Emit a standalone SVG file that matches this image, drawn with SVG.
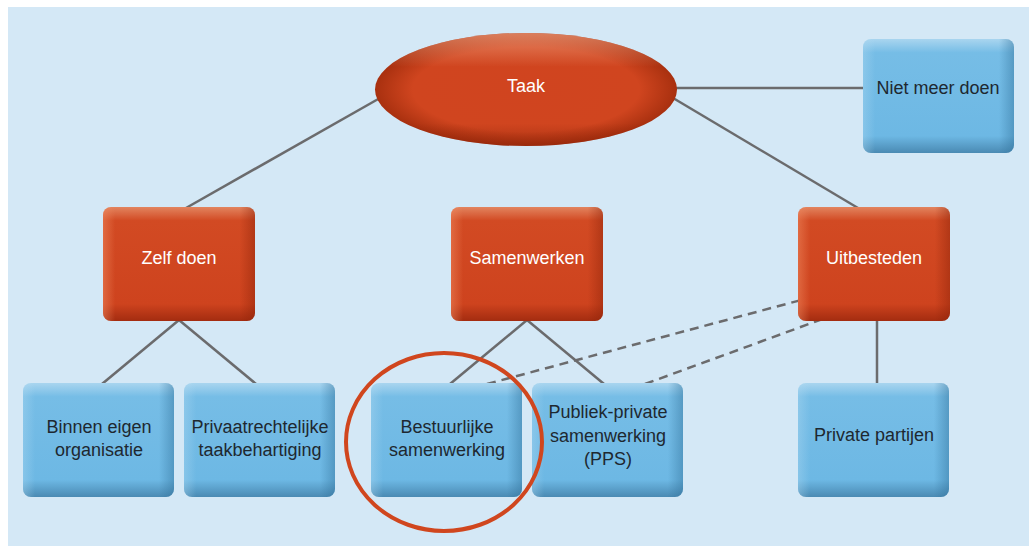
<svg xmlns="http://www.w3.org/2000/svg" width="1029" height="546" viewBox="0 0 1029 546">
<defs>
<style>
.conn{stroke:#6b6b6d;stroke-width:2.5;fill:none}
.dash{stroke:#6b6b6d;stroke-width:2.5;fill:none;stroke-dasharray:9 6}
.tw{font-family:"Liberation Sans Narrow","Liberation Sans",Arial,sans-serif;font-size:18px;fill:#ffffff;text-anchor:middle}
.tb{font-family:"Liberation Sans Narrow","Liberation Sans",Arial,sans-serif;font-size:18px;fill:#1e2830;text-anchor:middle}
</style>
<linearGradient id="rv" x1="0" y1="0" x2="0" y2="1">
<stop offset="0" stop-color="#e2845f"/>
<stop offset="0.12" stop-color="#d24a23"/>
<stop offset="0.85" stop-color="#ce431e"/>
<stop offset="1" stop-color="#a32c10"/>
</linearGradient>
<linearGradient id="rh" x1="0" y1="0" x2="1" y2="0">
<stop offset="0" stop-color="#f08a60" stop-opacity="0.5"/>
<stop offset="0.08" stop-color="#f08a60" stop-opacity="0"/>
<stop offset="0.9" stop-color="#8a2208" stop-opacity="0"/>
<stop offset="1" stop-color="#8a2208" stop-opacity="0.45"/>
</linearGradient>
<linearGradient id="bv" x1="0" y1="0" x2="0" y2="1">
<stop offset="0" stop-color="#a9d5ef"/>
<stop offset="0.12" stop-color="#76bde6"/>
<stop offset="0.85" stop-color="#6db8e4"/>
<stop offset="1" stop-color="#4a8ab3"/>
</linearGradient>
<linearGradient id="bh" x1="0" y1="0" x2="1" y2="0">
<stop offset="0" stop-color="#b5dcf2" stop-opacity="0.35"/>
<stop offset="0.08" stop-color="#b5dcf2" stop-opacity="0"/>
<stop offset="0.9" stop-color="#2f6f98" stop-opacity="0"/>
<stop offset="1" stop-color="#2f6f98" stop-opacity="0.45"/>
</linearGradient>
<radialGradient id="er" cx="0.5" cy="0.5" r="0.5">
<stop offset="0" stop-color="#d0441f"/>
<stop offset="0.75" stop-color="#d0451f"/>
<stop offset="1" stop-color="#a8300f"/>
</radialGradient>
<linearGradient id="ev" x1="0" y1="0" x2="0" y2="1">
<stop offset="0" stop-color="#f0a07e" stop-opacity="0.7"/>
<stop offset="0.3" stop-color="#f0a07e" stop-opacity="0"/>
<stop offset="0.8" stop-color="#8a2208" stop-opacity="0"/>
<stop offset="1" stop-color="#8a2208" stop-opacity="0.5"/>
</linearGradient>
<g id="redbox">
<rect width="152" height="114" rx="8" fill="url(#rv)"/>
<rect width="152" height="114" rx="8" fill="url(#rh)"/>
</g>
<g id="bluebox">
<rect width="151" height="114" rx="8" fill="url(#bv)"/>
<rect width="151" height="114" rx="8" fill="url(#bh)"/>
</g>
</defs>
<rect x="0" y="0" width="1029" height="546" fill="#ffffff"/>
<rect x="8" y="7" width="1021" height="539" fill="#d4e8f6"/>

<g id="connectors">
<line class="conn" x1="380" y1="98" x2="186" y2="208"/>
<line class="conn" x1="660" y1="88" x2="864" y2="88"/>
<line class="conn" x1="668" y1="95" x2="858" y2="208"/>
<line class="conn" x1="179" y1="320" x2="102" y2="384"/>
<line class="conn" x1="179" y1="320" x2="256" y2="384"/>
<line class="conn" x1="527" y1="320" x2="450" y2="384"/>
<line class="conn" x1="527" y1="320" x2="604" y2="384"/>
<line class="conn" x1="877" y1="320" x2="877" y2="384"/>
<line class="dash" x1="487" y1="384" x2="805" y2="299"/>
<line class="dash" x1="645" y1="384" x2="828" y2="317"/>
</g>

<g id="node-taak">
<ellipse cx="526" cy="89.5" rx="151" ry="56.5" fill="url(#er)"/>
<ellipse cx="526" cy="89.5" rx="151" ry="56.5" fill="url(#ev)"/>
<text class="tw" x="526" y="92">Taak</text>
</g>

<g id="node-niet-meer-doen">
<use href="#bluebox" x="863" y="39"/>
<text class="tb" x="938" y="94">Niet meer doen</text>
</g>

<g id="node-zelf-doen">
<use href="#redbox" x="103" y="207"/>
<text class="tw" x="179" y="264">Zelf doen</text>
</g>

<g id="node-samenwerken">
<use href="#redbox" x="451" y="207"/>
<text class="tw" x="527" y="264">Samenwerken</text>
</g>

<g id="node-uitbesteden">
<use href="#redbox" x="798" y="207"/>
<text class="tw" x="874" y="264">Uitbesteden</text>
</g>

<g id="node-binnen">
<use href="#bluebox" x="23" y="383"/>
<text class="tb" x="99" y="433">Binnen eigen</text>
<text class="tb" x="99" y="456">organisatie</text>
</g>

<g id="node-privaatrechtelijke">
<use href="#bluebox" x="184" y="383"/>
<text class="tb" x="260" y="433">Privaatrechtelijke</text>
<text class="tb" x="260" y="456">taakbehartiging</text>
</g>

<g id="node-bestuurlijke">
<use href="#bluebox" x="371" y="383"/>
<text class="tb" x="447" y="433">Bestuurlijke</text>
<text class="tb" x="447" y="456">samenwerking</text>
</g>

<g id="node-pps">
<use href="#bluebox" x="532" y="383"/>
<text class="tb" x="608" y="418">Publiek-private</text>
<text class="tb" x="608" y="442">samenwerking</text>
<text class="tb" x="608" y="465">(PPS)</text>
</g>

<g id="node-private-partijen">
<use href="#bluebox" x="798" y="383"/>
<text class="tb" x="874" y="441">Private partijen</text>
</g>

<g id="highlight">
<ellipse cx="444" cy="442" rx="98" ry="89" fill="none" stroke="#d0461e" stroke-width="4"/>
</g>
</svg>
